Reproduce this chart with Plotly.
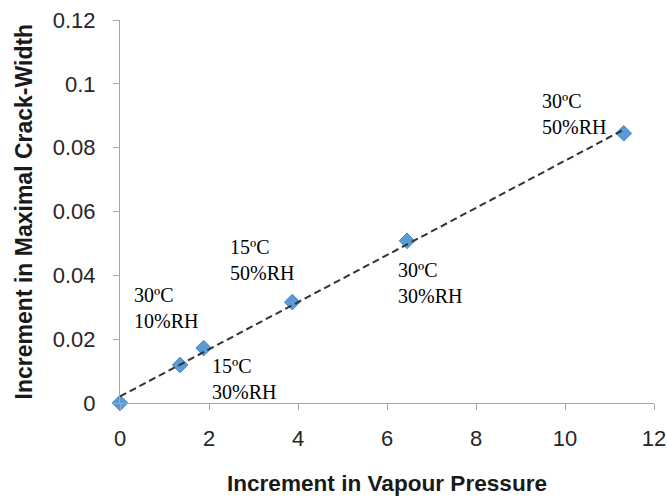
import numpy as np
import plotly.graph_objects as go

# Data
vapour_pressure = [0.0, 1.35, 1.88, 3.87, 6.45, 11.32]
crack_width = [0.0, 0.0119, 0.0172, 0.0316, 0.0508, 0.0845]

label_texts = ["30ºC<br>10%RH", "15ºC<br>50%RH", "15ºC<br>30%RH", "30ºC<br>30%RH", "30ºC<br>50%RH"]
label_x = [0.27, 2.43, 2.02, 6.20, 9.44]
label_y = [0.0299, 0.0449, 0.0074, 0.0376, 0.0904]

x_ticks = [0, 2, 4, 6, 8, 10, 12]
y_ticks = [0, 0.02, 0.04, 0.06, 0.08, 0.1, 0.12]
y_ticktext = ["0", "0.02", "0.04", "0.06", "0.08", "0.1", "0.12"]

x_title = "Increment in Vapour Pressure"
y_title = "Increment in Maximal Crack-Width"

# Linear trendline
slope, intercept = np.polyfit(vapour_pressure, crack_width, 1)
tx = np.array([min(vapour_pressure), max(vapour_pressure)])
ty = slope * tx + intercept

fig = go.Figure()
fig.add_trace(go.Scatter(
    x=vapour_pressure, y=crack_width, mode="markers",
    marker=dict(symbol="diamond", size=12, color="#5B9BD5",
                line=dict(color="#4A86C8", width=1)),
    cliponaxis=False, showlegend=False, hoverinfo="x+y"))
fig.add_trace(go.Scatter(
    x=tx, y=ty, mode="lines",
    line=dict(color="#333333", width=2, dash="7px,4px"),
    showlegend=False, hoverinfo="skip"))

for t, x, y in zip(label_texts, label_x, label_y):
    fig.add_annotation(x=x, y=y, xref="x", yref="y", text=t, showarrow=False,
                       xanchor="left", yanchor="middle", align="left",
                       font=dict(family="Liberation Serif", size=20, color="#000000"))

# Y-axis title as a rotated annotation for precise placement
fig.add_annotation(x=-0.18, y=0.5, xref="paper", yref="paper", text=f"<b>{y_title}</b>",
                   textangle=-90, showarrow=False, xanchor="center", yanchor="middle",
                   font=dict(family="Liberation Sans", size=23, color="#1a1a1a"))

axis_common = dict(showgrid=False, zeroline=False, showline=True, linecolor="#A6A6A6",
                   linewidth=1, ticks="outside", ticklen=6, tickcolor="#A6A6A6",
                   automargin=False,
                   tickfont=dict(family="Liberation Sans", size=22, color="#262626"))

fig.update_xaxes(range=[0, 12], tickvals=x_ticks, ticklabelstandoff=10, **axis_common,
                 title=dict(text=f"<b>{x_title}</b>",
                            font=dict(family="Liberation Sans", size=22.6, color="#1a1a1a"),
                            standoff=24))
fig.update_yaxes(range=[0, 0.12], tickvals=y_ticks, ticktext=y_ticktext,
                 ticklabelstandoff=13, **axis_common)

fig.update_layout(width=667, height=498, margin=dict(l=120, r=13, t=20, b=95),
                  plot_bgcolor="white", paper_bgcolor="white")

fig.write_html("out.html", config={"displayModeBar": False},
               post_script="document.body.style.margin='0';")
